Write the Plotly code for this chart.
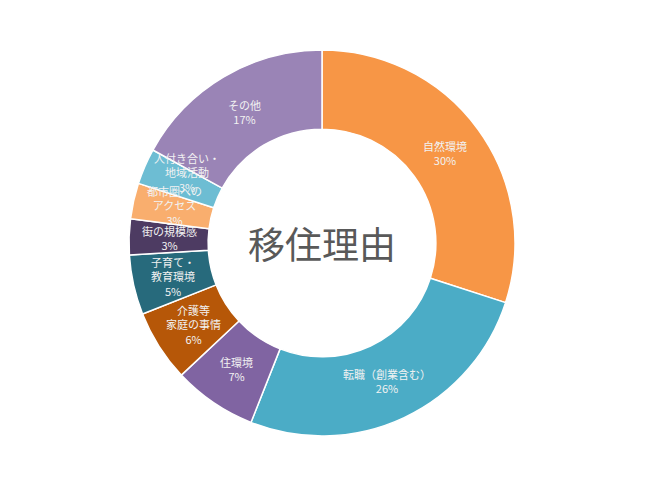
import math
import plotly.graph_objects as go

labels = ["自然環境", "転職（創業含む）", "住環境", "介護等<br>家庭の事情", "子育て・<br>教育環境",
          "街の規模感", "都市圏への<br>アクセス", "人付き合い・<br>地域活動", "その他"]
values = [30, 26, 7, 6, 5, 3, 3, 3, 17]
colors = ["#F79646", "#4BACC6", "#8064A2", "#B65708", "#276A7C",
          "#4D3B62", "#F9AE6E", "#6DBDD3", "#9A84B6"]

# page body has an 8px margin, so the plot area is set to land the ring where the reference has it
W, H = 650, 487
ml, mr, mt, mb = 0, 22, 42, 59
pw, ph = W - ml - mr, H - mt - mb
radius = min(pw, ph) / 2

fig = go.Figure(go.Pie(
    labels=labels,
    values=values,
    hole=0.59,
    sort=False,
    direction="clockwise",
    rotation=0,
    marker=dict(colors=colors, line=dict(color="white", width=1.5)),
    textinfo="none",
    hoverinfo="label+percent",
    showlegend=False,
))

# labels sit in the middle of the ring at each slice's mid angle,
# nudged along the ring when they would pile onto the previous one
total = sum(values)
rr = 0.79 * radius
min_gap = 32
annotations = []
cum = 0
prev = None
for lab, v in zip(labels, values):
    ang = (cum + v / 2) / total * 2 * math.pi
    cum += v
    dx, dy = rr * math.sin(ang), rr * math.cos(ang)
    if prev is not None and dx < 0:
        while abs(dy - prev[1]) < min_gap and abs(dx - prev[0]) < 60:
            ang += math.radians(0.5)
            dx, dy = rr * math.sin(ang), rr * math.cos(ang)
    prev = (dx, dy)
    annotations.append(dict(
        text=f"{lab}<br>{v / total * 100:.0f}%",
        x=0.5 + dx / pw, y=0.5 + dy / ph,
        xref="paper", yref="paper", xanchor="center", yanchor="middle", showarrow=False,
        font=dict(size=11, color="#F2F2F2", family="Noto Sans CJK JP"),
    ))

annotations.append(dict(text="移住理由", x=0.5, y=0.5, xref="paper", yref="paper",
                        xanchor="center", yanchor="middle",
                        showarrow=False, font=dict(size=37, color="#595959")))

fig.update_layout(
    width=W, height=H,
    margin=dict(l=ml, r=mr, t=mt, b=mb),
    paper_bgcolor="white",
    font=dict(family="Noto Sans CJK JP"),
    annotations=annotations,
)

fig.write_html("out.html")
